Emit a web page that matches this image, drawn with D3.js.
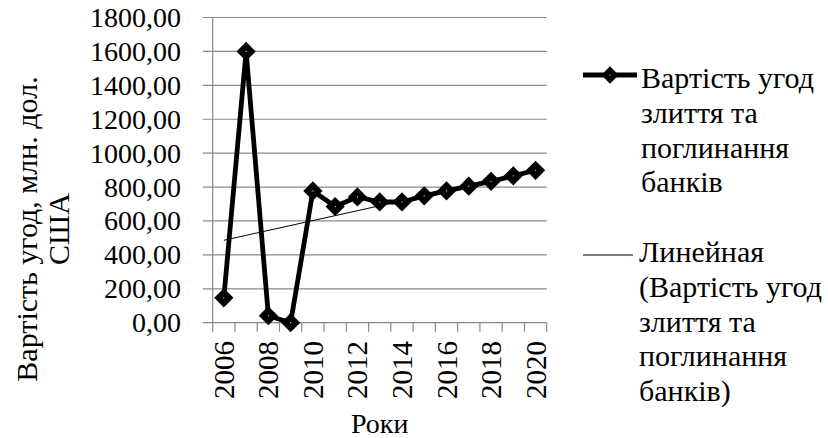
<!DOCTYPE html>
<html><head><meta charset="utf-8">
<script src="https://cdn.jsdelivr.net/npm/d3@7"></script>
</head>
<body style="margin:0"><svg id="c" width="828" height="438"></svg>
<script>
const years = [2006,2007,2008,2009,2010,2011,2012,2013,2014,2015,2016,2017,2018,2019,2020];
const values = [147,1600,41,0,777,685,742,712,712,748,777,805,834,866,899];
const yTicks = [0,200,400,600,800,1000,1200,1400,1600,1800];
const xLabelYears = [2006,2008,2010,2012,2014,2016,2018,2020];
const yTitleLines = ["Вартість угод, млн. дол.","США"];
const xTitle = "Роки";
const legend1 = ["Вартість угод","злиття та","поглинання","банків"];
const legend2 = ["Линейная","(Вартість угод","злиття та","поглинання","банків)"];

const FONT = "'Liberation Serif'";
const svg = d3.select("#c").style("font-family",FONT);
const L = 212.7, R = 546.7, T = 17.5, B = 322.7;
const grid = "#8a8a8a";

const x = d3.scaleBand().domain(years).range([L,R]);
const y = d3.scaleLinear().domain([0,1800]).range([B,T]);
const loc = d3.formatLocale({decimal:",",thousands:"",grouping:[3],currency:["",""]});
const fmt = loc.format(".2f");

svg.append("g").selectAll("line").data(yTicks).join("line")
  .attr("x1",L-10).attr("x2",R).attr("y1",d=>y(d)).attr("y2",d=>y(d))
  .attr("stroke",grid).attr("stroke-width",1.2);
svg.append("line").attr("x1",L).attr("x2",L).attr("y1",T).attr("y2",B).attr("stroke",grid).attr("stroke-width",1.2);
const bounds = years.map(d=>x(d)).concat([R]);
svg.append("g").selectAll("line").data(bounds).join("line")
  .attr("x1",d=>d).attr("x2",d=>d).attr("y1",B).attr("y2",B+9)
  .attr("stroke",grid).attr("stroke-width",1.2);

const n = values.length;
const xs = d3.range(n);
const mx = d3.mean(xs), my = d3.mean(values);
const slope = d3.sum(xs,(d,i)=>(d-mx)*(values[i]-my))/d3.sum(xs,d=>(d-mx)*(d-mx));
const icpt = my - slope*mx;
const cx = d=>x(d)+x.bandwidth()/2;

const lineGen = d3.line().x((d,i)=>cx(years[i])).y(d=>y(d));
svg.append("path").datum(values).attr("d",lineGen).attr("fill","none")
  .attr("stroke","#000").attr("stroke-width",4.8).attr("stroke-linejoin","round");

const trend = [0,n-1].map(i=>[cx(years[i]), y(icpt+slope*i)]);
svg.append("line").attr("x1",trend[0][0]).attr("y1",trend[0][1]).attr("x2",trend[1][0]).attr("y2",trend[1][1])
  .attr("stroke","#000").attr("stroke-width",1);

const sym = d3.symbol(d3.symbolSquare,185);
const mk = svg.append("g").selectAll("g").data(values).join("g")
  .attr("transform",(d,i)=>`translate(${cx(years[i])},${y(d)})`);
mk.append("path").attr("d",sym).attr("transform","rotate(45)").attr("fill","#000");
mk.append("circle").attr("r",0.6).attr("fill","#fff");

function addText(data, cls, setup){
  return svg.selectAll("text."+cls).data(data).join("text").attr("class",cls)
    .style("font-family",FONT).call(setup);
}
addText(yTicks,"yt",s=>s.style("font-size","28px")
  .attr("x",181).attr("y",d=>y(d)+9.5).attr("text-anchor","end").text(d=>fmt(d)));
addText(xLabelYears,"xt",s=>s.style("font-size","29px")
  .attr("transform",d=>`translate(${x(d)+x.bandwidth()/2+10},${341})rotate(-90)`)
  .attr("text-anchor","end").text(d=>d));
addText([xTitle],"xti",s=>s.style("font-size","28px")
  .attr("x",(L+R)/2).attr("y",433).attr("text-anchor","middle").text(d=>d));
addText(yTitleLines,"yti",s=>s.style("font-size","30px")
  .attr("transform",(d,i)=>`translate(${37+i*32},229)rotate(-90)`)
  .attr("text-anchor","middle").text(d=>d));

svg.append("line").attr("x1",583).attr("x2",637).attr("y1",75).attr("y2",75).attr("stroke","#000").attr("stroke-width",4.8);
svg.append("path").attr("d",d3.symbol(d3.symbolSquare,150)).attr("transform","translate(610,75)rotate(45)").attr("fill","#000");
svg.append("circle").attr("cx",610).attr("cy",75).attr("r",0.6).attr("fill","#fff");
addText(legend1,"l1",s=>s.style("font-size","30px")
  .attr("x",641).attr("y",(d,i)=>88+i*34.8).text(d=>d));
svg.append("line").attr("x1",583).attr("x2",633).attr("y1",255).attr("y2",255).attr("stroke","#000").attr("stroke-width",1);
addText(legend2,"l2",s=>s.style("font-size","30px")
  .attr("x",639).attr("y",(d,i)=>262+i*34.8).text(d=>d));
</script></body></html>
